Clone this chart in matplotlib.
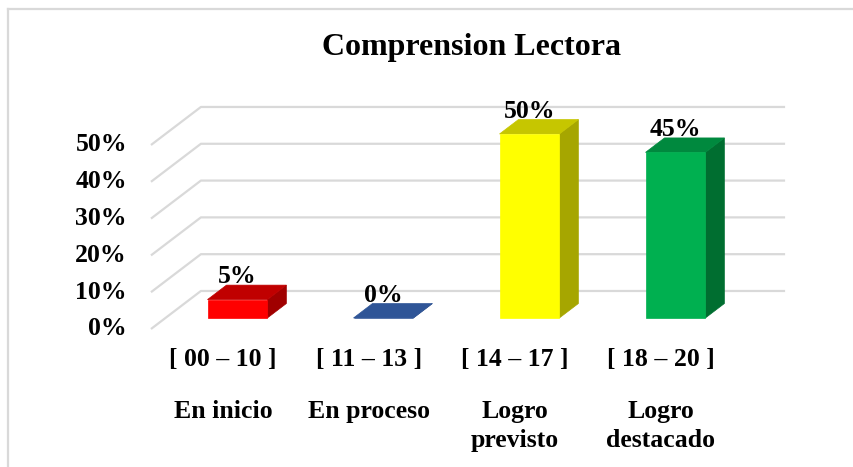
import matplotlib
matplotlib.use("Agg")
import matplotlib.pyplot as plt
from matplotlib.lines import Line2D
from matplotlib.patches import Polygon

RANGES = ["[ 00 – 10 ]", "[ 11 – 13 ]", "[ 14 – 17 ]", "[ 18 – 20 ]"]
LEVELS = ["En inicio", "En proceso", "Logro\nprevisto", "Logro\ndestacado"]
VALUES = [5, 0, 50, 45]
TICKS = [0, 10, 20, 30, 40, 50]
FRONT = ["#FF0000", "#2F5597", "#FFFF00", "#00B050"]
TOP = ["#C00000", "#2F5597", "#C6C600", "#00893E"]
SIDE = ["#A00000", "#24437A", "#A6A600", "#006E30"]

# oblique "3D" projection: depth offset in (category, percent) units
DX, DY = 0.342, 10.33
D0, D1 = 0.29, 0.67      # bar depth span
HALF_W = 0.205           # half bar width
GRID = "#D9D9D9"

plt.rcParams["font.family"] = ["Liberation Serif", "DejaVu Serif"]
plt.rcParams["font.weight"] = "bold"


def proj(x, y, d):
    return x + d * DX, y + d * DY


fig = plt.figure(figsize=(8.54, 4.67), dpi=100)
ax = fig.add_axes([0, 0, 1, 1])
ax.set_xlim(-1.527, 4.322)
ax.set_ylim(-37.5, 89.4)
ax.axis("off")

# gridlines: front-left diagonal then back wall horizontal
x0, x1 = -0.493, 3.508
for t in TICKS:
    pts = [proj(x0, t, 0), proj(x0, t, 1), proj(x1, t, 1)]
    ax.plot([p[0] for p in pts], [p[1] for p in pts], color=GRID, lw=1.6,
            solid_capstyle="butt", zorder=1)
    ax.text(-0.658, t, f"{t}%", ha="right", va="center", fontsize=18.5,
            fontweight="bold")

for i, v in enumerate(VALUES):
    xl, xr = i - HALF_W, i + HALF_W
    front = [proj(xl, 0, D0), proj(xr, 0, D0), proj(xr, v, D0), proj(xl, v, D0)]
    top = [proj(xl, v, D0), proj(xr, v, D0), proj(xr, v, D1), proj(xl, v, D1)]
    side = [proj(xr, 0, D0), proj(xr, 0, D1), proj(xr, v, D1), proj(xr, v, D0)]
    ax.add_patch(Polygon(side, closed=True, fc=SIDE[i], ec=SIDE[i], lw=0.5, zorder=3))
    ax.add_patch(Polygon(top, closed=True, fc=TOP[i], ec=TOP[i], lw=0.5, zorder=3))
    ax.add_patch(Polygon(front, closed=True, fc=FRONT[i], ec=FRONT[i], lw=0.5, zorder=3))

    lx, _ = proj(i, v, D0)
    _, ly = proj(i, v, D1)
    ax.text(lx, ly + 0.5, f"{v}%", ha="center", va="baseline", fontsize=18.5,
            fontweight="bold", zorder=4)

    ax.text(i, -8.4, RANGES[i], ha="center", va="center", fontsize=18.5,
            fontweight="bold")
    ax.text(i, -19.2, LEVELS[i], ha="center", va="top", fontsize=18.5,
            fontweight="bold", linespacing=1.38)

ax.text(1.70, 76.6, "Comprension Lectora", ha="center", va="center",
        fontsize=23, fontweight="bold")

# chart frame (only top and left edges are visible in the crop)
top_y = 1 - 9 / 467
left_x = 8 / 854
fig.add_artist(Line2D([left_x, 1], [top_y, top_y], color=GRID, lw=1.6))
fig.add_artist(Line2D([left_x, left_x], [0, top_y], color=GRID, lw=1.6))

fig.savefig("out.png", dpi=100)
